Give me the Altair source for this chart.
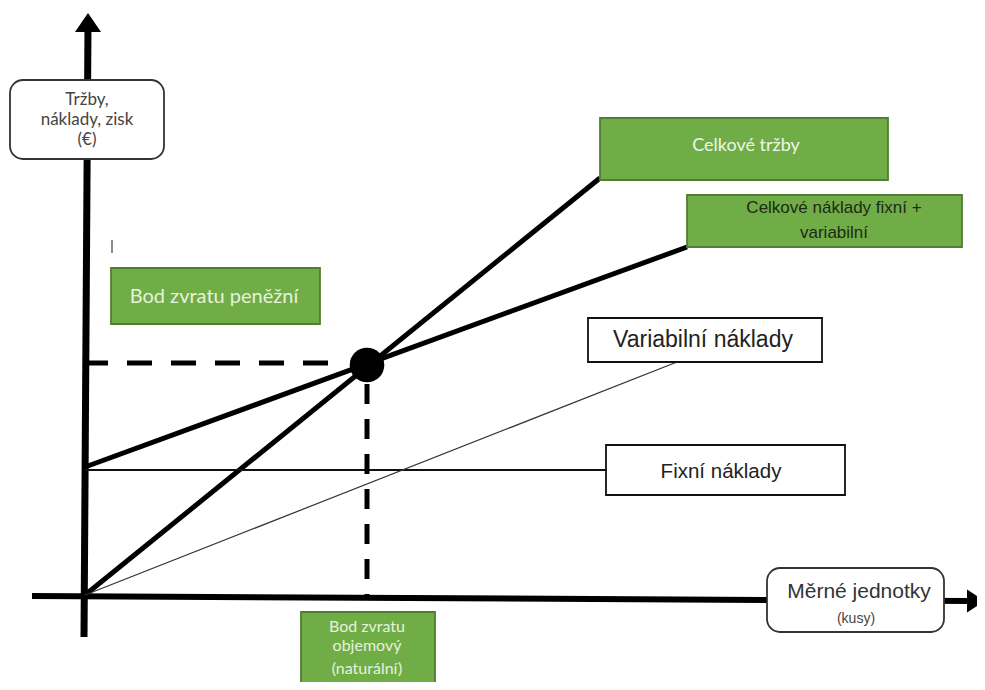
import altair as alt
import pandas as pd

# ---------------- data (diagram coordinates, page pixels) ----------------
LINE_NAMES = ["Osa Y", "Osa X", "Celkové tržby", "Celkové náklady", "Fixní náklady", "Variabilní náklady", "značka"]
LINE_X1 = [88, 32, 85, 85, 85, 85, 112]
LINE_Y1 = [25, 596, 595, 467, 470, 595, 240]
LINE_X2 = [84, 970, 600, 687, 606, 677, 112]
LINE_Y2 = [637, 601, 178, 247, 470, 362, 253]
LINE_W = [7, 6, 5, 5, 2, 1.2, 1.5]
LINE_COLOR = ["#000000", "#000000", "#000000", "#000000", "#111111", "#333333", "#666666"]

DASH_X1 = [83, 367]
DASH_Y1 = [363, 384]
DASH_X2 = [347, 367]
DASH_Y2 = [363, 597]

BEP_X = [367]
BEP_Y = [365]

BOX_NAMES = ["Celkové tržby", "Celkové náklady", "Bod zvratu peněžní", "Variabilní náklady", "Fixní náklady", "Bod zvratu objemový"]
BOX_X1 = [600, 687, 111, 588, 606, 301]
BOX_Y1 = [118, 195, 268, 318, 445, 612]
BOX_X2 = [888, 962, 320, 822, 845, 435]
BOX_Y2 = [180, 247, 324, 362, 495, 690]
BOX_FILL = ["#70ad47", "#70ad47", "#70ad47", "#ffffff", "#ffffff", "#70ad47"]
BOX_STROKE = ["#507e32", "#507e32", "#507e32", "#111111", "#111111", "#507e32"]

RBOX_X1 = [10, 767]
RBOX_Y1 = [80, 568]
RBOX_X2 = [164, 944]
RBOX_Y2 = [159, 632]

TXT = ["Tržby,", "náklady, zisk", "(€)", "Celkové tržby", "Bod zvratu peněžní",
       "Bod zvratu", "objemový", "(naturální)"]
TXT_X = [87, 87, 87, 746, 214, 367, 367, 367]
TXT_Y = [100, 120, 140, 146, 297, 627, 646, 669]
TXT_SIZE = [17, 17, 17, 18, 20, 16, 16, 16]
TXT_COLOR = ["#444444", "#444444", "#444444", "#eef6e8", "#e6f2dc", "#e6f2dc", "#e6f2dc", "#e6f2dc"]

TXT2 = ["Celkové náklady fixní +", "variabilní", "Variabilní náklady", "Fixní náklady", "Měrné jednotky", "(kusy)"]
TXT2_X = [834, 834, 703, 721, 859, 856]
TXT2_Y = [208, 233, 340, 472, 592, 619]
TXT2_SIZE = [17, 17, 23, 20.5, 21, 14]
TXT2_COLOR = ["#1e2a16", "#1e2a16", "#222222", "#222222", "#333333", "#444444"]

# ---------------- scales ----------------
W, H = 969, 674
xs = alt.Scale(domain=[8, 977], nice=False, zero=False)
ys = alt.Scale(domain=[8, 682], nice=False, zero=False, reverse=True)


def X(f):
    return alt.X(f, type="quantitative", scale=xs, axis=None)


def Y(f):
    return alt.Y(f, type="quantitative", scale=ys, axis=None)


lines = pd.DataFrame({"name": LINE_NAMES, "x1": LINE_X1, "y1": LINE_Y1,
                      "x2": LINE_X2, "y2": LINE_Y2, "w": LINE_W, "c": LINE_COLOR})
dash_h = pd.DataFrame({"x1": DASH_X1[:1], "y1": DASH_Y1[:1], "x2": DASH_X2[:1], "y2": DASH_Y2[:1]})
dash_v = pd.DataFrame({"x1": DASH_X1[1:], "y1": DASH_Y1[1:], "x2": DASH_X2[1:], "y2": DASH_Y2[1:]})
bep = pd.DataFrame({"x": BEP_X, "y": BEP_Y})
boxes = pd.DataFrame({"name": BOX_NAMES, "x1": BOX_X1, "y1": BOX_Y1, "x2": BOX_X2, "y2": BOX_Y2,
                      "fill": BOX_FILL, "stroke": BOX_STROKE})
rboxes = pd.DataFrame({"x1": RBOX_X1, "y1": RBOX_Y1, "x2": RBOX_X2, "y2": RBOX_Y2})
t1 = pd.DataFrame({"t": TXT, "x": TXT_X, "y": TXT_Y, "s": TXT_SIZE, "c": TXT_COLOR})
t2 = pd.DataFrame({"t": TXT2, "x": TXT2_X, "y": TXT2_Y, "s": TXT2_SIZE, "c": TXT2_COLOR})
arrow_up = pd.DataFrame({"x": [88], "y": [22.5]})
arrow_right = pd.DataFrame({"x": [976], "y": [601]})

rule_layer = alt.Chart(lines).mark_rule(strokeCap="butt").encode(
    x=X("x1"), y=Y("y1"), x2="x2", y2="y2",
    strokeWidth=alt.StrokeWidth("w:Q", scale=None),
    color=alt.Color("c:N", scale=None),
)

dash_h_layer = alt.Chart(dash_h).mark_rule(strokeWidth=5, strokeDash=[25, 19], color="black").encode(
    x=X("x1"), y=Y("y1"), x2="x2", y2="y2")
dash_v_layer = alt.Chart(dash_v).mark_rule(strokeWidth=5, strokeDash=[20, 15], color="black").encode(
    x=X("x1"), y=Y("y1"), x2="x2", y2="y2")

bep_layer = alt.Chart(bep).mark_point(filled=True, size=1200, color="black", opacity=1, shape="circle").encode(
    x=X("x"), y=Y("y"))

up_layer = alt.Chart(arrow_up).mark_point(
    shape="M0,-0.73L1,0.73L-1,0.73Z", filled=True, size=676, color="black", opacity=1, strokeWidth=0
).encode(x=X("x"), y=Y("y"))
right_layer = alt.Chart(arrow_right).mark_point(
    shape="M0.78,0L-0.78,-1L-0.78,1Z", filled=True, size=529, color="black", opacity=1, strokeWidth=0
).encode(x=X("x"), y=Y("y"))

box_layer = alt.Chart(boxes).mark_rect(strokeWidth=1.8).encode(
    x=X("x1"), y=Y("y1"), x2="x2", y2="y2",
    fill=alt.Fill("fill:N", scale=None),
    stroke=alt.Stroke("stroke:N", scale=None),
)
rbox_layer = alt.Chart(rboxes).mark_rect(fill="white", stroke="#333333", strokeWidth=1.8, cornerRadius=13).encode(
    x=X("x1"), y=Y("y1"), x2="x2", y2="y2")

text1 = alt.Chart(t1).mark_text(font="Lato", align="center", baseline="middle").encode(
    x=X("x"), y=Y("y"), text="t:N",
    size=alt.Size("s:Q", scale=None), color=alt.Color("c:N", scale=None))
text2 = alt.Chart(t2).mark_text(font="Liberation Sans", align="center", baseline="middle").encode(
    x=X("x"), y=Y("y"), text="t:N",
    size=alt.Size("s:Q", scale=None), color=alt.Color("c:N", scale=None))

chart = alt.layer(
    rule_layer, dash_h_layer, dash_v_layer, up_layer, right_layer,
    box_layer, rbox_layer, bep_layer, text1, text2,
).properties(
    width=W, height=H, autosize=alt.AutoSizeParams(type="none"), padding=0, background="white",
).configure_view(stroke=None)

chart.save("out.html", embed_options={"renderer": "svg", "actions": False})
